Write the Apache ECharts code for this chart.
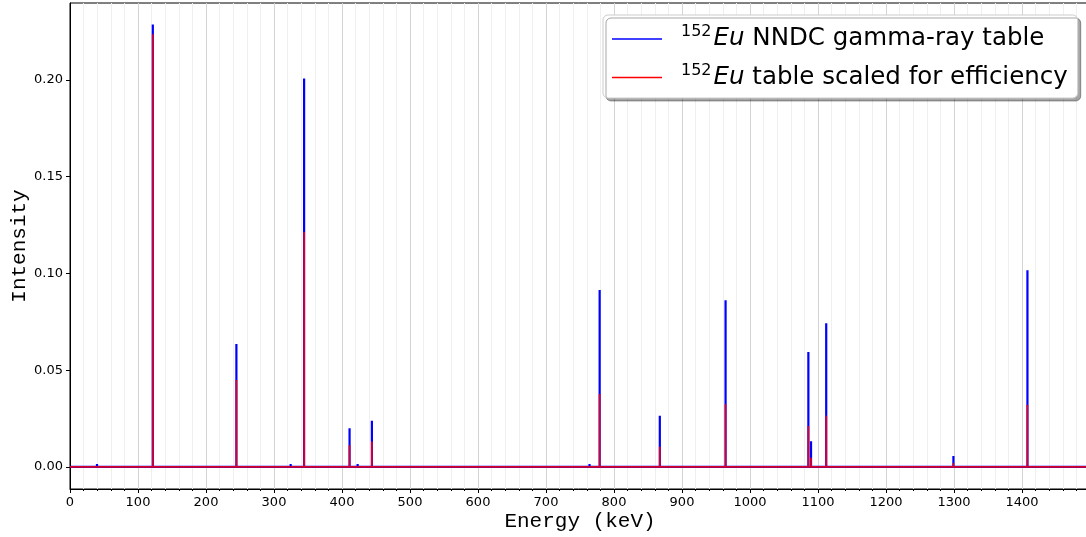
<!DOCTYPE html>
<html>
<head>
<meta charset="utf-8">
<script src="https://cdn.jsdelivr.net/npm/echarts@6/dist/echarts.min.js"></script>
<style>
  html, body { margin: 0; padding: 0; background: #fff; }
  #chart { width: 1086px; height: 537px; }
</style>
</head>
<body>
<div id="chart"></div>
<script>
// gamma line energies (keV) and intensities
const energies = [39.7, 121.78, 244.7, 324.5, 344.28, 411.12, 423.0, 443.96, 764.0, 778.9, 867.38, 964.08, 1085.84, 1089.74, 1112.08, 1299.14, 1408.01]
const nndc = [0.0015, 0.2287, 0.0635, 0.0015, 0.2008, 0.0200, 0.0015, 0.0239, 0.0015, 0.0914, 0.0265, 0.0862, 0.0594, 0.0133, 0.0743, 0.0057, 0.1017]
const scaled = [0.0008, 0.2236, 0.0449, 0.0008, 0.1215, 0.0112, 0.0008, 0.0131, 0.0008, 0.0377, 0.0105, 0.0324, 0.0212, 0.0047, 0.0264, 0.0019, 0.0322]
const yTicks = [0, 0.05, 0.1, 0.15, 0.2]
const seriesNames = ['152Eu NNDC gamma-ray table', '152Eu table scaled for efficiency']
const legendText = [' NNDC gamma-ray table', ' table scaled for efficiency']

const X_MAX = 1500
const BLUE = '#0000ff'
const RED = '#ff0000'

// spikes on a zero baseline
function spectrum(vals) {
  const pts = [[0, 0]]
  energies.forEach((e, i) => {
    pts.push([e, 0], [e, vals[i]], [e, 0])
  })
  pts.push([X_MAX, 0])
  return pts
}

const chart = echarts.init(document.getElementById('chart'))
chart.setOption({
  animation: false,
  backgroundColor: '#fff',
  grid: {
    left: 70, right: -4, top: 3, bottom: 48,
    outerBoundsMode: 'none', containLabel: false,
    show: true, borderColor: '#000', borderWidth: 1
  },
  legend: {
    orient: 'vertical',
    left: 603, top: 15,
    padding: [9, 10, 8, 9],
    icon: 'rect',
    itemWidth: 50, itemHeight: 1.5, itemGap: 11,
    backgroundColor: '#fff',
    borderColor: '#cccccc', borderWidth: 1, borderRadius: 5,
    shadowColor: 'rgba(0,0,0,0.35)', shadowOffsetX: 3, shadowOffsetY: 3, shadowBlur: 0,
    data: seriesNames,
    formatter: name => '{sup|152}{it|Eu}{t|' + legendText[seriesNames.indexOf(name)] + '}',
    textStyle: {
      fontFamily: 'DejaVu Sans', color: '#000',
      rich: {
        sup: { fontSize: 16, fontFamily: 'DejaVu Sans', verticalAlign: 'top', lineHeight: 18, padding: [0, 0, 0, 14] },
        it: { fontSize: 24.5, fontFamily: 'DejaVu Sans', fontStyle: 'oblique', lineHeight: 30, padding: [0, 0, 0, 2] },
        t: { fontSize: 24.5, fontFamily: 'DejaVu Sans', lineHeight: 30 }
      }
    }
  },
  xAxis: {
    type: 'value', min: 0, max: X_MAX, interval: 100,
    name: 'Energy (keV)', nameLocation: 'middle', nameGap: 22, nameMoveOverlap: false,
    nameTextStyle: { fontFamily: 'Liberation Mono', fontSize: 21, color: '#000', verticalAlign: 'top' },
    axisLine: { onZero: false, lineStyle: { color: '#000', width: 1 } },
    axisTick: { length: 4, lineStyle: { color: '#000' } },
    minorTick: { show: true, splitNumber: 5, length: 2, lineStyle: { color: '#000' } },
    axisLabel: {
      showMaxLabel: false, margin: 7,
      fontFamily: 'DejaVu Sans', fontSize: 13, color: '#000',
      formatter: v => String(v)
    },
    splitLine: { show: true, lineStyle: { color: '#d4d4d4', width: 1 } },
    minorSplitLine: { show: true, lineStyle: { color: '#efefef', width: 1 } }
  },
  yAxis: {
    type: 'value', min: -0.0114, max: 0.2398,
    name: 'Intensity', nameLocation: 'middle', nameGap: 40, nameMoveOverlap: false,
    nameTextStyle: { fontFamily: 'Liberation Mono', fontSize: 21, color: '#000' },
    axisLine: { show: true, lineStyle: { color: '#000', width: 1 } },
    axisTick: { show: true, length: 4, customValues: yTicks, lineStyle: { color: '#000' } },
    axisLabel: {
      customValues: yTicks, margin: 7,
      fontFamily: 'DejaVu Sans', fontSize: 13, color: '#000',
      formatter: v => v.toFixed(2)
    },
    splitLine: { show: false }
  },
  series: [
    {
      name: seriesNames[0], type: 'line', data: spectrum(nndc),
      symbol: 'none', lineStyle: { color: BLUE, width: 2.2 }, itemStyle: { color: BLUE }
    },
    {
      name: seriesNames[1], type: 'line', data: spectrum(scaled),
      symbol: 'none', lineStyle: { color: RED, width: 1.8, opacity: 0.85 }, itemStyle: { color: RED }
    }
  ]
})
</script>
</body>
</html>
